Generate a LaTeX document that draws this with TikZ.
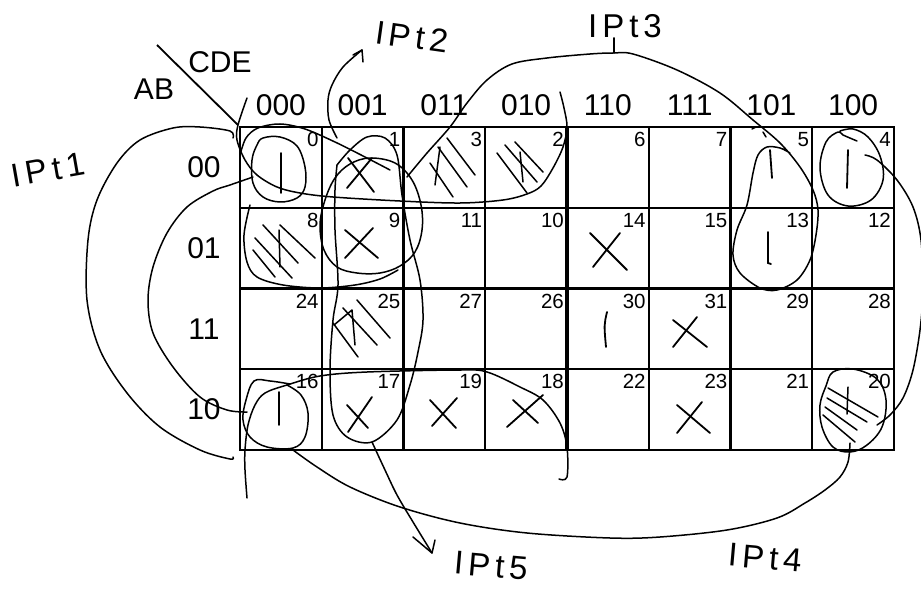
\documentclass[tikz,border=0pt]{standalone}
\usepackage{fontspec}
\setmainfont{Liberation Sans}
\newfontfamily\handfont[LetterSpace=15]{Liberation Sans}
\begin{document}
\begin{tikzpicture}[x=1pt,y=-1pt,
  hand/.style={line width=1.5pt,line cap=round,line join=round},
  xmark/.style={line width=1.8pt,line cap=round},
  gridline/.style={line width=2.2pt},
  hdr/.style={font=\fontsize{30}{30}\selectfont, inner sep=0pt},
  num/.style={font=\fontsize{20.5}{20.5}\selectfont, inner sep=0pt, anchor=north east},
  lbl/.style={font=\handfont\fontsize{33}{33}\selectfont, inner sep=0pt}]
\useasboundingbox (0,0) rectangle (921,591);

% grid
\foreach \i in {0,...,8} \draw[gridline] (240+81.75*\i,127) -- (240+81.75*\i,450);
\foreach \j in {0,...,4} \draw[gridline] (239,127+80.75*\j) -- (895,127+80.75*\j);
\draw[line width=4pt] (567,126) -- (567,451);

% cell numbers
\foreach \row [count=\r from 0] in {{0,1,3,2,6,7,5,4},{8,9,11,10,14,15,13,12},{24,25,27,26,30,31,29,28},{16,17,19,18,22,23,21,20}} {
  \foreach \v [count=\c from 1] in \row {
    \node[num] (n\v) at (240+81.75*\c-3, 127+80.75*\r+5) {\v};
  }
}
% headers
\foreach \h [count=\c from 0] in {000,001,011,010,110,111,101,100}
  \node[hdr] (h\c) at (240+81.75*\c+40.9,105) {\h};
\foreach \h [count=\r from 0] in {00,01,11,10}
  \node[hdr] (r\r) at (204, 127+80.75*\r+40.4) {\h};
\node[hdr] (cde) at (220,62) {CDE};
\node[hdr] (ab) at (154,89) {AB};
\coordinate (d1) at (157,45);
\coordinate (d2) at (238,125);
\draw[line width=1.8pt] (d1) -- (d2);

% handwritten labels
\node[lbl, rotate=10] (ip1) at (48,170) {IPt1};
\node[lbl, rotate=-8] (ip2) at (412,37) {IPt2};
\node[lbl] (ip3) at (625,26) {IPt3};
\node[lbl, rotate=-5] (ip4) at (765,558) {IPt4};
\node[lbl, rotate=-5] (ip5) at (491,566) {IPt5};

% U around row 00, cols 0-3
\draw[hand] plot[smooth, tension=0.55] coordinates {(247,98) (238,125) (237,140) (245,160) (257,175) (277,187) (300,193) (333,197) (400,201) (460,203) (503,200) (527,194) (541,186) (553,168) (563,147) (567,127) (564,108) (560,92)};

% IPt3 curve and loop round 5,13
\draw[hand] plot[smooth, tension=0.55] coordinates {(407,177) (427,153) (450,127) (467,103) (487,80) (512,64) (547,58) (590,54) (613,53) (633,54) (677,70) (720,93) (753,120) (780,143) (800,167) (813,190) (818,210) (816,235) (810,260) (797,280) (777,290) (760,288) (740,273) (733,255) (737,230) (747,205) (753,173) (758,155) (767,147) (780,148) (790,153)};
\coordinate (t3) at (614,53);
\draw[hand] (t3) -- (ip3.south -| t3);
\draw[hand] (752,129) -- (756,127);
\draw[hand] (763,132) -- (766,137);

% loop round 4
\draw[hand] plot[smooth, tension=0.6] coordinates {(857,141) (843,135) (838,132) (826,142) (820,168) (828,195) (848,206) (871,200) (883,180) (880,156) (868,137) (853,129) (840,131)};
% 4 to 20 curve
\draw[hand] plot[smooth, tension=0.55] coordinates {(865,155) (877,160) (897,180) (913,207) (921,240) (923,290) (920,330) (913,370) (903,398) (890,415) (877,425)};
% loop round 20
\draw[hand] plot[smooth cycle, tension=0.6] coordinates {(833,372) (853,369) (877,379) (886,400) (882,427) (867,445) (850,452) (833,447) (822,427) (820,405) (826,386)};
\draw[hand] (828,388) -- (878,417);
\draw[hand] (827,398) -- (867,422);
\draw[hand] (825,407) -- (857,430);
\draw[hand] (823,415) -- (855,442);
\draw[hand] (848,387) -- (847,414);
% IPt4 curve
\draw[hand] plot[smooth, tension=0.55] coordinates {(850,443) (848,462) (840,477) (825,490) (805,503) (777,518) (727,530) (660,537) (610,538) (527,533) (460,523) (400,507) (350,487) (317,467) (293,450)};

% loop round 16
\draw[hand] plot[smooth, tension=0.6] coordinates {(290,384) (270,381) (254,381) (246,400) (243,420) (250,437) (267,447) (293,448) (305,437) (308,413) (301,395) (287,385)};
% U round row 10, cols 0-3
\draw[hand] plot[smooth, tension=0.55] coordinates {(247,498) (245,470) (245,450) (248,425) (255,405) (265,393) (287,385) (320,376) (367,372) (460,370) (487,372) (520,387) (543,400) (560,423) (567,447) (567,477) (559,479)};

% IPt1 inner and outer curves
\draw[hand] plot[smooth, tension=0.55] coordinates {(253,177) (230,185) (213,191) (187,207) (167,233) (153,267) (148,300) (153,333) (173,367) (200,397) (227,410) (247,412)};
\draw[hand] plot[smooth, tension=0.55] coordinates {(233,138) (230,131) (200,127) (173,128) (140,140) (117,163) (97,200) (88,240) (87,300) (100,350) (127,393) (160,427) (200,450) (230,459) (233,457)};

% loop round 0
\draw[hand] plot[smooth cycle, tension=0.6] coordinates {(263,138) (280,137) (297,146) (305,167) (305,187) (297,198) (280,202) (263,197) (253,183) (252,160) (257,145)};
% quad loop pieces
\draw[hand] plot[smooth, tension=0.55] coordinates {(240,155) (246,138) (258,128) (280,124) (305,129) (335,142) (365,157) (390,170)};
\draw[hand] plot[smooth, tension=0.55] coordinates {(250,205) (244,235) (247,262) (257,277) (283,285) (320,288) (355,285) (380,279) (398,270)};
% circle round 1,9
\draw[hand] plot[smooth cycle, tension=0.6] coordinates {(370,158) (395,163) (412,180) (421,205) (422,230) (415,252) (400,266) (380,273) (357,273) (337,267) (324,250) (320,225) (325,200) (335,178) (350,164)};

% IPt5 loop and arrow
\draw[hand] plot[smooth, tension=0.55] coordinates {(337,165) (350,150) (367,137) (385,138) (397,155) (402,195) (410,240) (420,280) (423,320) (418,352) (410,385) (397,420) (372,442) (347,437) (333,415) (330,370) (333,320) (338,285) (335,230) (335,190) (337,165)};
\coordinate (a5) at (432,553);
\draw[hand] plot[smooth, tension=0.55] coordinates {(372,442) (385,470) (397,495) (413,522) (a5)};
\draw[hand] (413,537) -- (a5) -- (435,540);

% IPt2 arrow
\coordinate (a2) at (362,50);
\draw[hand] plot[smooth, tension=0.55] coordinates {(337,138) (329,120) (328,100) (332,85) (343,67) (a2)};
\draw[hand] (353,55) -- (a2) -- (363,62);

% X marks
\draw[xmark] (348,158) -- (374,192); \draw[xmark] (372,158) -- (347,188);
\draw[xmark] (345,230) -- (378,258); \draw[xmark] (373,228) -- (345,258);
\draw[xmark] (590,233) -- (627,270); \draw[xmark] (620,233) -- (593,267);
\draw[xmark] (673,320) -- (707,347); \draw[xmark] (697,317) -- (673,347);
\draw[xmark] (677,405) -- (710,433); \draw[xmark] (702,402) -- (677,433);
\draw[xmark] (347,405) -- (368,428); \draw[xmark] (372,397) -- (348,432);
\draw[xmark] (430,400) -- (456,428); \draw[xmark] (457,398) -- (432,426);
\draw[xmark] (507,427) -- (543,395); \draw[xmark] (513,400) -- (538,423);

% ones
\draw[xmark] (281,153) -- (281,193);
\draw[xmark] (848,150) -- (847,188);
\draw[xmark] (770,150) -- (772,178);
\draw[xmark] (768,232) -- (768,263) -- (771,264);
\draw[xmark] (279,392) -- (279,425);
\draw[xmark] (607,312) .. controls (604,325) .. (606,347);

% hatching
\draw[hand] (263,225) -- (298,263); \draw[hand] (255,238) -- (292,278);
\draw[hand] (253,250) -- (275,277); \draw[hand] (280,225) -- (315,258);
\draw[hand] (279,230) -- (280,267);
\draw[hand] (447,138) -- (475,175); \draw[hand] (438,147) -- (467,187);
\draw[hand] (430,163) -- (453,197); \draw[hand] (440,147) -- (435,185);
\draw[hand] (505,145) -- (537,182); \draw[hand] (497,153) -- (527,193);
\draw[hand] (515,142) -- (543,172); \draw[hand] (520,152) -- (523,182);
\draw[hand] (343,308) -- (377,345); \draw[hand] (357,300) -- (390,338);
\draw[hand] (333,323) -- (358,357); \draw[hand] (334,325) -- (352,310) -- (355,345);
\end{tikzpicture}
\end{document}
